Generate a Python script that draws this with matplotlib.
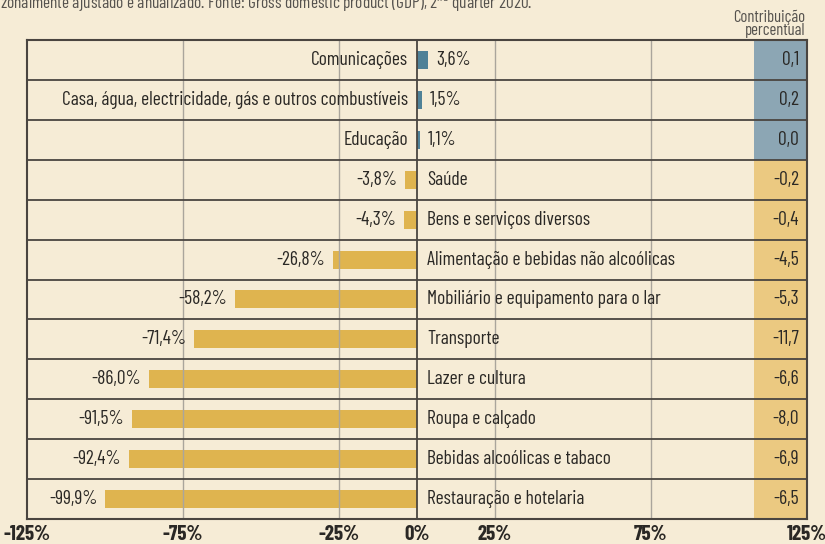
import matplotlib

matplotlib.use("Agg")
import matplotlib.pyplot as plt

# Data
categories = [
    "Comunicações",
    "Casa, água, electricidade, gás e outros combustíveis",
    "Educação",
    "Saúde",
    "Bens e serviços diversos",
    "Alimentação e bebidas não alcoólicas",
    "Mobiliário e equipamento para o lar",
    "Transporte",
    "Lazer e cultura",
    "Roupa e calçado",
    "Bebidas alcoólicas e tabaco",
    "Restauração e hotelaria",
]
changes = [3.6, 1.5, 1.1, -3.8, -4.3, -26.8, -58.2, -71.4, -86.0, -91.5, -92.4, -99.9]
contrib = [0.1, 0.2, 0.0, -0.2, -0.4, -4.5, -5.3, -11.7, -6.6, -8.0, -6.9, -6.5]
tick_vals = [-125, -75, -25, 0, 25, 75, 125]
grid_vals = [-75, -25, 25, 75]

# Styles
BG = "#f6ecd6"
BLUE_BAR = "#4f8197"
BLUE_COL = "#8ca6b4"
GOLD_BAR = "#dfb44f"
GOLD_COL = "#ebc981"
DARK = "#4a4540"
GRID = "#aaa59c"
TXT = "#2a2825"
FONT = ["Barlow Condensed", "DejaVu Sans"]
COL_START = 108
FS = 14

plt.rcParams["font.family"] = FONT

fig = plt.figure(figsize=(8.25, 5.44), dpi=100, facecolor=BG)
ax = fig.add_axes([27 / 825, 1 - 519 / 544, 780 / 825, 479 / 544])
ax.set_facecolor(BG)

n = len(categories)
ax.set_xlim(-125, 125)
ax.set_ylim(n - 0.5, -0.5)

for i, (cat, v, c) in enumerate(zip(categories, changes, contrib)):
    pos = v >= 0
    ax.barh(i, v, height=0.45, color=BLUE_BAR if pos else GOLD_BAR, zorder=2)
    # contribution column cell
    ax.barh(i, 125 - COL_START, left=COL_START, height=1.0,
            color=BLUE_COL if pos else GOLD_COL, zorder=1)
    val = f"{v:.1f}%".replace(".", ",")
    if pos:
        ax.text(-2.8, i, cat, ha="right", va="center", fontsize=FS, color=TXT, zorder=4)
        ax.text(v + 2.5, i, val, ha="left", va="center", fontsize=FS, color=TXT, zorder=4)
    else:
        ax.text(v - 2.5, i, val, ha="right", va="center", fontsize=FS, color=TXT, zorder=4)
        ax.text(3.2, i, cat, ha="left", va="center", fontsize=FS, color=TXT, zorder=4)
    ax.text(122.5, i, f"{c:.1f}".replace(".", ","), ha="right", va="center",
            fontsize=FS, color=TXT, zorder=4)

# grid and row separators
for g in grid_vals:
    ax.axvline(g, color=GRID, lw=1, zorder=3)
ax.axvline(0, color=DARK, lw=1.3, zorder=3)
for k in range(1, n):
    ax.axhline(k - 0.5, color=DARK, lw=1.3, zorder=3)

for s in ax.spines.values():
    s.set_color(DARK)
    s.set_linewidth(1.5)
    s.set_zorder(5)

ax.set_yticks([])
ax.set_xticks(tick_vals)
ax.set_xticklabels([f"{t}%" for t in tick_vals], fontsize=15, fontweight="bold", color=TXT)
ax.tick_params(axis="x", length=0, pad=4)

fig.text(805 / 825, 1 - 24 / 544, "Contribuição\npercentual", ha="right", va="center",
         fontsize=12, color="#55524e", linespacing=0.8)
fig.text(0, 1 - 9.5 / 544,
         "zonalmente ajustado e anualizado. Fonte: Gross domestic product (GDP), "
         "2$^{\\mathregular{nd}}$ quarter 2020.",
         ha="left", va="baseline", fontsize=12.5, color="#55524e")

fig.savefig("out.png", dpi=100, facecolor=BG)
